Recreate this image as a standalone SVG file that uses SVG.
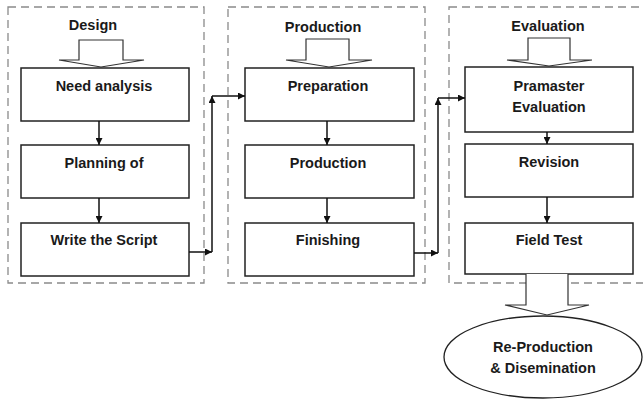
<svg xmlns="http://www.w3.org/2000/svg" width="643" height="400" viewBox="0 0 643 400">
<defs>
<style>
.grp{fill:none;stroke:#8a8a8a;stroke-width:1.3;stroke-dasharray:8 5}
.box{fill:#fff;stroke:#222;stroke-width:1.5}
.blk{fill:#fff;stroke:#333;stroke-width:1.2}
.ln{fill:none;stroke:#111;stroke-width:1.5}
.t{font-family:"Liberation Sans",Arial,sans-serif;font-weight:bold;font-size:14.5px;fill:#1a1a1a;text-anchor:middle}
</style>
<marker id="ah" viewBox="0 0 10 10" refX="10" refY="5" markerWidth="7" markerHeight="7" markerUnits="userSpaceOnUse" orient="auto">
<path d="M0,0 L10,5 L0,10 Z" fill="#111"/>
</marker>
</defs>
<rect width="643" height="400" fill="#fff"/>

<g id="group-design">
<rect class="grp" x="8" y="7" width="196" height="276"/>
<text class="t" x="93" y="30">Design</text>
<path class="blk" d="M79,40 H123 V60 H144 L101,67 L59,60 H79 Z"/>
</g>
<g id="group-production">
<rect class="grp" x="228" y="7" width="197" height="276"/>
<text class="t" x="323" y="32">Production</text>
<path class="blk" d="M306,39 H349 V60 H372 L329,67 L286,60 H306 Z"/>
</g>
<g id="group-evaluation">
<rect class="grp" x="449" y="7" width="200" height="276"/>
<text class="t" x="548" y="31">Evaluation</text>
<path class="blk" d="M528,38 H570 V60 H592 L549,66 L507,60 H528 Z"/>
</g>

<g id="need-analysis">
<rect class="box" x="21" y="68" width="168" height="53"/>
<text class="t" x="104" y="91">Need analysis</text>
</g>
<g id="planning">
<rect class="box" x="21" y="145" width="168" height="53"/>
<text class="t" x="104" y="168">Planning of</text>
</g>
<g id="write-script">
<rect class="box" x="21" y="223" width="168" height="53"/>
<text class="t" x="104" y="245">Write the Script</text>
</g>

<g id="preparation">
<rect class="box" x="245" y="68" width="169" height="53"/>
<text class="t" x="328" y="91">Preparation</text>
</g>
<g id="production">
<rect class="box" x="245" y="145" width="169" height="53"/>
<text class="t" x="328" y="168">Production</text>
</g>
<g id="finishing">
<rect class="box" x="245" y="223" width="169" height="53"/>
<text class="t" x="328" y="245">Finishing</text>
</g>

<g id="pramaster-evaluation">
<rect class="box" x="465" y="67" width="168" height="65"/>
<text class="t" x="549" y="91">Pramaster</text>
<text class="t" x="549" y="112">Evaluation</text>
</g>
<g id="revision">
<rect class="box" x="465" y="144" width="168" height="53"/>
<text class="t" x="549" y="167">Revision</text>
</g>
<g id="field-test">
<rect class="box" x="465" y="223" width="168" height="51"/>
<text class="t" x="549" y="245">Field Test</text>
</g>

<g id="reproduction">
<ellipse cx="543" cy="357" rx="99" ry="41" fill="#fff" stroke="#222" stroke-width="1.3"/>
<text class="t" x="543" y="352">Re-Production</text>
<text class="t" x="543" y="373">&amp; Disemination</text>
</g>

<g id="connectors">
<line class="ln" x1="99" y1="121" x2="99" y2="145" marker-end="url(#ah)"/>
<line class="ln" x1="99" y1="198" x2="99" y2="223" marker-end="url(#ah)"/>
<line class="ln" x1="327" y1="121" x2="327" y2="145" marker-end="url(#ah)"/>
<line class="ln" x1="327" y1="198" x2="327" y2="223" marker-end="url(#ah)"/>
<line class="ln" x1="547" y1="132" x2="547" y2="144" marker-end="url(#ah)"/>
<line class="ln" x1="547" y1="197" x2="547" y2="223" marker-end="url(#ah)"/>
<line class="ln" x1="189" y1="252" x2="212" y2="252" marker-end="url(#ah)"/>
<line class="ln" x1="212" y1="252" x2="212" y2="96" marker-end="url(#ah)"/>
<line class="ln" x1="212" y1="96" x2="245" y2="96" marker-end="url(#ah)"/>
<line class="ln" x1="414" y1="253" x2="438" y2="253" marker-end="url(#ah)"/>
<line class="ln" x1="438" y1="253" x2="438" y2="98" marker-end="url(#ah)"/>
<line class="ln" x1="438" y1="98" x2="465" y2="98" marker-end="url(#ah)"/>
<path class="blk" d="M526,274 V305 H505 L547,315 L589,305 H568 V274"/>
</g>
</svg>
